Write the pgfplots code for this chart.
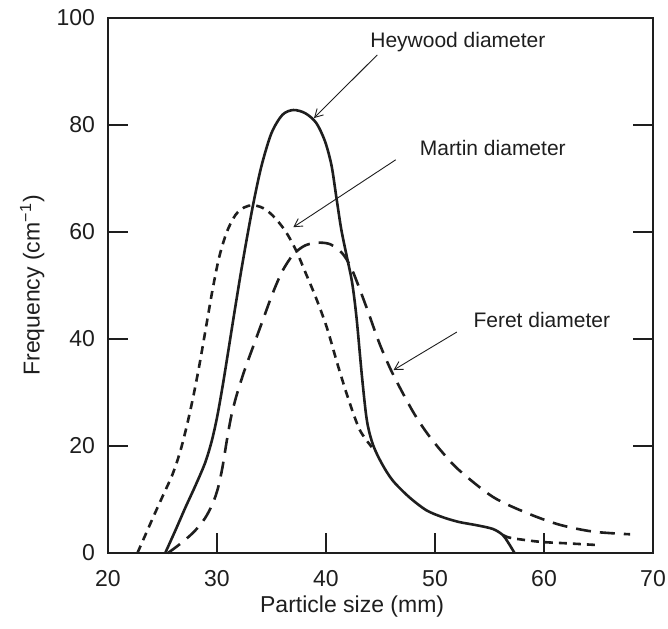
\documentclass[border=0pt]{standalone}
\usepackage{fontspec}
\setmainfont{Liberation Sans}
\usepackage{pgfplots}
\pgfplotsset{compat=1.18}
\usetikzlibrary{arrows.meta}
\definecolor{ink}{HTML}{1E1E1E}
\begin{document}
\begin{tikzpicture}
\path[use as bounding box] (-54pt,-37.5pt) rectangle (280pt,276.5pt);
\begin{axis}[
  scale only axis, width=272.5pt, height=267.5pt,
  xmin=20, xmax=70, ymin=0, ymax=100,
  xtick={20,30,...,70}, ytick={0,20,...,100},
  xtick pos=left, ytick pos=both,
  tick align=inside, major tick length=10pt,
  axis line style={line width=0.8pt, color=ink},
  tick style={line width=0.8pt, color=ink},
  /pgf/number format/assume math mode=true,
  ticklabel style={font=\fontsize{11.5}{13}\selectfont, text=ink},
  xticklabel style={yshift=-5pt},
  yticklabel style={xshift=-3pt},
  xlabel={Particle size (mm)},
  ylabel={Frequency (cm\textsuperscript{−1})},
  label style={font=\fontsize{11.5}{13}\selectfont, text=ink},
  xlabel style={at={(axis description cs:0.448,0)}, anchor=center, yshift=-27pt},
  ylabel style={at={(axis description cs:-0.139,0.5)}, anchor=center},
  clip=false,
]
% Heywood (solid)
\addplot[ink, line width=1.3pt, smooth, tension=0.5] coordinates {
(25.25,0) (26.2,4.3) (27.1,8.5) (28.0,12.5) (28.9,16.8) (29.5,20.8) (30.0,25.3) (30.5,31) (31.0,37.3)
(31.6,45) (32.2,52.5) (32.8,59.5) (33.4,66) (34.1,72.5) (35.0,78.5) (36.0,81.9) (37.0,82.8)
(38.1,82.2) (39.1,80.4) (39.9,77) (40.5,72.5) (40.95,66.5) (41.4,60.5) (41.9,55.5) (42.4,50.5) (42.8,44)
(43.3,33) (43.75,24.8) (44.3,20.3) (45.1,16.8) (46.1,13.6) (47.6,10.5) (49.2,8.0) (50.7,6.7)
(52.2,5.8) (53.8,5.2) (55.3,4.5) (56.2,3.4) (56.7,2.0) (57.3,0)
};
% Martin (short dashes)
\addplot[ink, line width=1.3pt, dash pattern=on 4pt off 3pt, smooth, tension=0.5] coordinates {
(22.7,0) (23.5,3.7) (24.3,7.4) (25.1,11) (25.9,14.6) (26.6,18.8) (27.2,23.5) (27.8,29) (28.4,35.3)
(29.0,42.3) (29.6,49.3) (30.2,55.3) (30.9,60) (31.7,63.2) (32.5,64.6) (33.3,65) (34.2,64.5) (35.1,63.1)
(36.2,60.4) (37.2,56.8) (38.1,52.5) (39.1,47.6) (40.1,42) (41.1,35) (42.1,28.5) (43.1,23) (44.2,19.8)
};
\addplot[ink, line width=1.3pt, dash pattern=on 4pt off 3pt, smooth, tension=0.5] coordinates {
(56.3,3.3) (57.0,2.8) (59.6,2.1) (62.2,1.8) (64.8,1.5)
};
% Feret (long dashes)
\addplot[ink, line width=1.3pt, dash pattern=on 7.5pt off 4.5pt, smooth, tension=0.5] coordinates {
(25.5,0) (26.3,1.2) (27.1,2.5) (28.0,4.2) (28.9,6.5) (29.6,9.2) (30.1,12.2) (30.5,16) (30.9,21)
(31.3,25.5) (31.8,29.5) (32.5,34) (33.3,38.5) (34.2,43.5) (35.1,48.5) (36.0,52.7) (37.0,55.8)
(38.1,57.5) (39.3,58) (40.4,57.7) (41.5,56) (42.4,52.9) (43.7,46) (44.9,39.2) (46.1,33.6) (47.9,26.7)
(49.2,22.6) (50.6,19) (52.2,15.5) (55.3,10.5) (58.4,7.5) (61.4,5.3) (64.5,4.0) (67.9,3.5)
};
% annotations
\node[font=\fontsize{10.5}{12}\selectfont, text=ink] at (axis cs:52.1,95.5) {Heywood diameter};
\node[font=\fontsize{10.5}{12}\selectfont, text=ink] at (axis cs:55.3,75.7) {Martin diameter};
\node[font=\fontsize{10.5}{12}\selectfont, text=ink] at (axis cs:59.8,43.6) {Feret diameter};
\draw[ink, line width=0.45pt, -{Straight Barb[length=4pt,width=4.5pt]}] (axis cs:44.7,93.1) -- (axis cs:38.9,81.3);
\draw[ink, line width=0.45pt, -{Straight Barb[length=4pt,width=4.5pt]}] (axis cs:46.4,73.5) -- (axis cs:37.0,60.9);
\draw[ink, line width=0.45pt, -{Straight Barb[length=4pt,width=4.5pt]}] (axis cs:52.0,41.3) -- (axis cs:46.2,34.2);
\end{axis}
\end{tikzpicture}
\end{document}
